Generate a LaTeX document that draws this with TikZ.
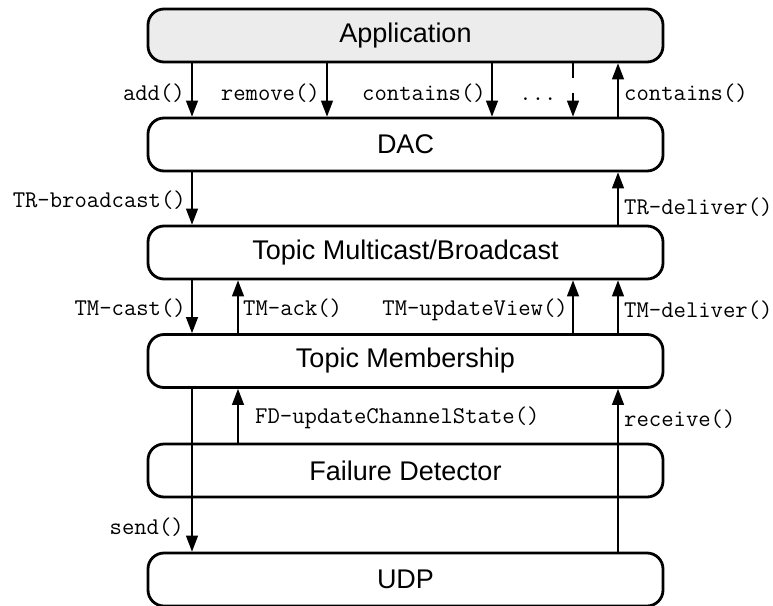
\documentclass[tikz,border=0pt]{standalone}
\usepackage{fontspec}
\setsansfont{Liberation Sans}
\usetikzlibrary{arrows.meta}
\definecolor{appgray}{RGB}{236,236,236}
\begin{document}
\begin{tikzpicture}[x=1pt,y=-1pt,
  layer/.style={draw,line width=2.8pt,rounded corners=16pt,minimum width=515pt,minimum height=53pt,inner sep=0pt,
    font=\sffamily\fontsize{27}{31}\selectfont},
  call/.style={line width=1.3pt,-{Triangle[length=16pt,width=12pt]}},
  lbl/.style={font=\ttfamily\fontsize{24}{27}\selectfont,inner sep=0pt}]
\useasboundingbox (0,0) rectangle (773,605);
% layers
\node[layer,fill=appgray] (app) at (405.5,35.5) {Application};
\node[layer] (dac) at (405.5,144.5) {DAC};
\node[layer] (tmb) at (405.5,252.5) {Topic Multicast/Broadcast};
\node[layer] (tm)  at (405.5,361) {Topic Membership};
\node[layer] (fd)  at (405.5,470.5) {Failure Detector};
\node[layer] (udp) at (405.5,579.5) {UDP};
% columns
\coordinate (cA) at (192,0);
\coordinate (cB) at (238,0);
\coordinate (cR) at (327,0);
\coordinate (cC) at (492,0);
\coordinate (cD) at (573,0);
\coordinate (cU) at (618,0);
% Application <-> DAC
\draw[call] (app.south -| cA) -- (dac.north -| cA);
\draw[call] (app.south -| cR) -- (dac.north -| cR);
\draw[call] (app.south -| cC) -- (dac.north -| cC);
\draw[call,dash pattern=on 15pt off 15pt on 80pt] (app.south -| cD) -- (dac.north -| cD);
\draw[call] (dac.north -| cU) -- (app.south -| cU);
\node[lbl,anchor=base east] (l1) at (185,100) {add()};
\node[lbl,anchor=base east] (l2) at (320,100) {remove()};
\node[lbl,anchor=base east] (l3) at (486,100) {contains()};
\node[lbl,anchor=base] (l4) at (538,100) {...};
\node[lbl,anchor=base west] (l5) at (624,100) {contains()};
% DAC <-> TMB
\draw[call] (dac.south -| cA) -- (tmb.north -| cA);
\draw[call] (tmb.north -| cU) -- (dac.south -| cU);
\node[lbl,anchor=base east] (l6) at (186,207) {TR-broadcast()};
\node[lbl,anchor=base west] (l7) at (624,214) {TR-deliver()};
% TMB <-> TM
\draw[call] (tmb.south -| cA) -- (tm.north -| cA);
\draw[call] (tm.north -| cB) -- (tmb.south -| cB);
\draw[call] (tm.north -| cD) -- (tmb.south -| cD);
\draw[call] (tm.north -| cU) -- (tmb.south -| cU);
\node[lbl,anchor=base east] (l8) at (186,315) {TM-cast()};
\node[lbl,anchor=base west] (l9) at (243,315) {TM-ack()};
\node[lbl,anchor=base east] (l10) at (568,315) {TM-updateView()};
\node[lbl,anchor=base west] (l11) at (624,317) {TM-deliver()};
% TM <-> FD / UDP
\draw[call] (fd.north -| cB) -- (tm.south -| cB);
\draw[call] (udp.north -| cU) -- (tm.south -| cU);
\draw[call] (tm.south -| cA) -- (udp.north -| cA);
\node[lbl,anchor=base west] (l12) at (255,423) {FD-updateChannelState()};
\node[lbl,anchor=base west] (l13) at (624,426) {receive()};
\node[lbl,anchor=base east] (l14) at (184,534) {send()};
\end{tikzpicture}
\end{document}
